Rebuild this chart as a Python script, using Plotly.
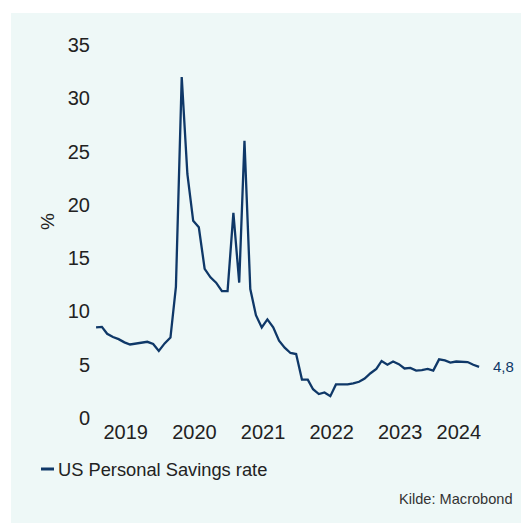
import plotly.graph_objects as go
import pandas as pd

# ---- data ----
start_month = "2019-01-01"
savings_2019 = [8.5, 8.55, 7.9, 7.6, 7.4, 7.1, 6.9, 7.0, 7.05, 7.15, 6.95, 6.3]
savings_2020 = [7.0, 7.55, 12.3, 32.0, 22.9, 18.5, 17.9, 14.0, 13.2, 12.7, 11.9, 11.9]
savings_2021 = [19.25, 12.7, 26.0, 12.1, 9.65, 8.5, 9.25, 8.5, 7.25, 6.6, 6.1, 6.0]
savings_2022 = [3.6, 3.6, 2.7, 2.25, 2.4, 2.05, 3.15, 3.15, 3.15, 3.25, 3.4, 3.7]
savings_2023 = [4.2, 4.6, 5.35, 5.0, 5.3, 5.05, 4.65, 4.7, 4.45, 4.5, 4.6, 4.45]
savings_2024 = [5.5, 5.4, 5.2, 5.3, 5.25, 5.25, 5.0, 4.8]

year_labels = ["2019", "2020", "2021", "2022", "2023", "2024"]
year_label_dates = ["2019-06-08", "2020-06-08", "2021-06-08", "2022-06-08", "2023-06-08", "2024-04-15"]
y_ticks = [0, 5, 10, 15, 20, 25, 30, 35]

series_name = "US Personal Savings rate"
source_text = "Kilde: Macrobond"

values = savings_2019 + savings_2020 + savings_2021 + savings_2022 + savings_2023 + savings_2024
dates = pd.date_range(start_month, periods=len(values), freq="MS")

# ---- style ----
NAVY = "#0f3868"
MINT = "#eef8f7"
FONT = "Liberation Sans, Arial, sans-serif"
FIG_W, FIG_H = 521, 523
L, R, T, B = 91, 25, 45, 105
PW, PH = FIG_W - L - R, FIG_H - T - B


def px(x):
    return (x - L) / PW


def py(y):
    return (FIG_H - B - y) / PH


fig = go.Figure()
fig.add_trace(go.Scatter(
    x=dates, y=values, mode="lines", name=series_name,
    line=dict(color=NAVY, width=2.3), showlegend=False,
))

last_val = values[-1]
fig.add_annotation(
    x=dates[-1], y=last_val, xref="x", yref="y",
    text=f"{last_val:.1f}".replace(".", ","), showarrow=False,
    xanchor="left", yanchor="middle", xshift=12,
    font=dict(family=FONT, size=15, color=NAVY),
)

# y-axis title
fig.add_annotation(
    x=px(47), y=py(222), xref="paper", yref="paper", text="%",
    textangle=-90, showarrow=False, xanchor="center", yanchor="middle",
    font=dict(family=FONT, size=19, color="#222222"),
)

# legend (manual)
fig.add_shape(type="line", xref="paper", yref="paper",
              x0=px(41), x1=px(54), y0=py(469), y1=py(469),
              line=dict(color=NAVY, width=3))
fig.add_annotation(
    x=px(56), y=py(469), xref="paper", yref="paper", text=series_name,
    showarrow=False, xanchor="left", yanchor="middle",
    font=dict(family=FONT, size=18.3, color="#222222"),
)

# source
fig.add_annotation(
    x=px(515), y=py(499), xref="paper", yref="paper", text=source_text,
    showarrow=False, xanchor="right", yanchor="middle",
    font=dict(family=FONT, size=14.6, color="#333333"),
)

# mint panel background
fig.add_shape(type="rect", xref="paper", yref="paper", layer="below",
              x0=px(11), x1=px(FIG_W + 2), y0=py(FIG_H + 2), y1=py(13),
              fillcolor=MINT, line=dict(width=0))

fig.update_layout(
    width=FIG_W, height=FIG_H,
    margin=dict(l=L, r=R, t=T, b=B, pad=0),
    paper_bgcolor="white", plot_bgcolor="rgba(0,0,0,0)",
    font=dict(family=FONT, size=20, color="#222222"),
    showlegend=False,
    xaxis=dict(
        type="date", range=["2018-12-05", "2024-10-30"],
        tickmode="array", tickvals=year_label_dates, ticktext=year_labels,
        showgrid=False, zeroline=False, showline=False, ticks="",
        tickfont=dict(size=20, color="#222222"),
    ),
    yaxis=dict(
        range=[0, 35], tickmode="array", tickvals=y_ticks,
        showgrid=False, zeroline=False, showline=False, ticks="",
        tickfont=dict(size=20, color="#222222"),
    ),
)

fig.write_html(
    "out.html",
    config={"displayModeBar": False},
    post_script="document.body.style.margin='0';document.body.style.overflow='hidden';",
)
